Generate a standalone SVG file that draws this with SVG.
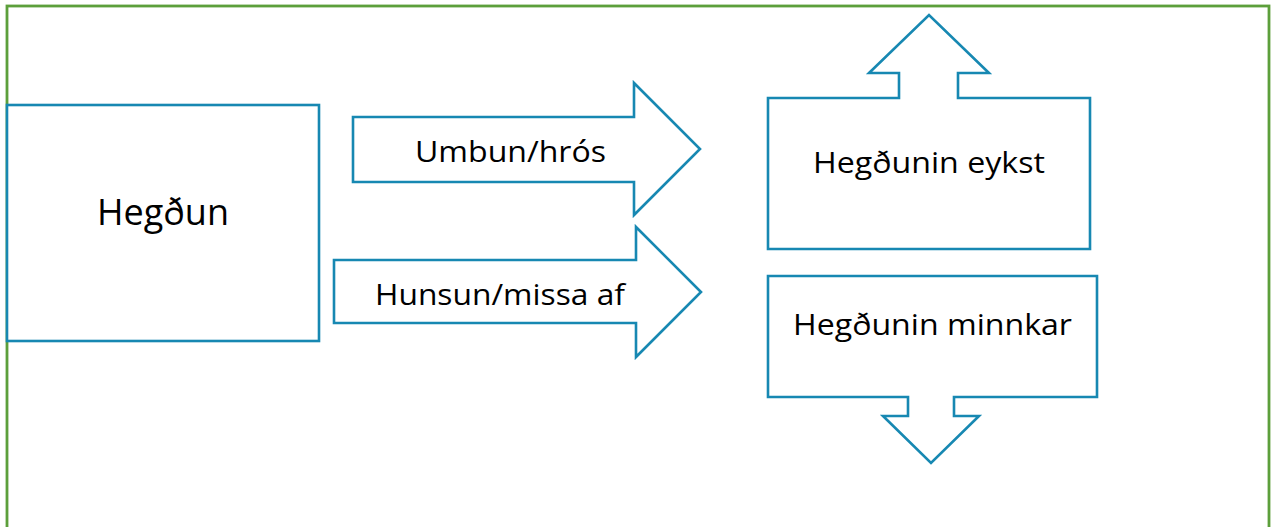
<svg xmlns="http://www.w3.org/2000/svg" width="1276" height="527" viewBox="0 0 1276 527">
<style>
.s{fill:#fff;stroke:#1788b2;stroke-width:2.6;stroke-linejoin:miter}
.t{font-family:"Open Sans","Noto Sans","Liberation Sans",sans-serif;fill:#000}
</style>
<rect x="0" y="0" width="1276" height="527" fill="#fff"/>
<rect x="7" y="6" width="1262" height="530" fill="none" stroke="#5c9f3b" stroke-width="2.8"/>
<g id="connectors">
<g id="arrow-umbun">
<polygon class="s" points="353,117 634,117 634,83 700,149 634,215 634,182 353,182"/>
<text class="t" x="415" y="162" font-size="29" textLength="191" lengthAdjust="spacingAndGlyphs">Umbun/hrós</text>
</g>
<g id="arrow-hunsun">
<polygon class="s" points="334,260 636,260 636,227 701,292 636,357 636,323 334,323"/>
<text class="t" x="375" y="305" font-size="29" textLength="250" lengthAdjust="spacingAndGlyphs">Hunsun/missa af</text>
</g>
</g>
<g id="node-hegdun">
<rect class="s" x="7" y="105" width="312" height="236"/>
<text class="t" x="97" y="225" font-size="36" textLength="132" lengthAdjust="spacingAndGlyphs">Hegðun</text>
</g>
<g id="node-eykst">
<polygon class="s" points="768,98 899,98 899,73 869,73 929,15 989,73 958,73 958,98 1090,98 1090,249 768,249"/>
<text class="t" x="813" y="173" font-size="30" textLength="232" lengthAdjust="spacingAndGlyphs">Hegðunin eykst</text>
</g>
<g id="node-minnkar">
<polygon class="s" points="768,276 1097,276 1097,397 954,397 954,416 979,416 931,463 883,416 908,416 908,397 768,397"/>
<text class="t" x="793" y="335" font-size="30" textLength="279" lengthAdjust="spacingAndGlyphs">Hegðunin minnkar</text>
</g>
</svg>
